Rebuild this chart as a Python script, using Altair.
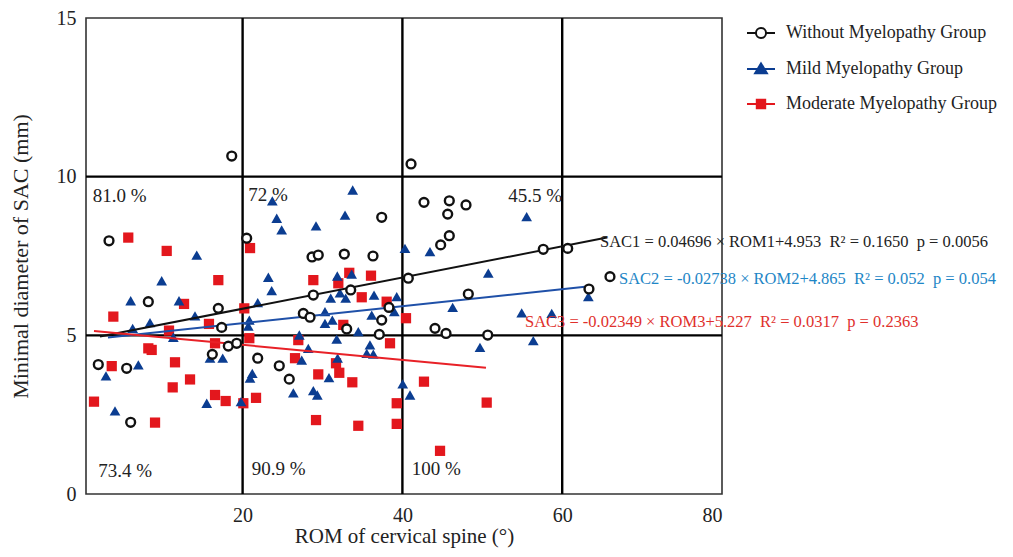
import altair as alt
import pandas as pd

FONT = "Liberation Serif"
BLACK = "#111111"
BLUE = "#0b3d91"
RED = "#e3171d"
BLUE_LINE = "#1f50a8"
RED_LINE = "#e82127"
TXT = "#222222"

# ---- data ----
groups = ["Without Myelopathy Group", "Mild Myelopathy Group", "Moderate Myelopathy Group"]

wo_x = [18.64, 41.08, 3.28, 20.51, 37.41, 28.69, 29.47, 32.73, 36.32, 28.85, 33.53, 38.32, 37.41, 8.20,
        16.96, 17.38, 27.60, 28.44, 33.03, 37.11, 18.21, 19.26, 16.21, 1.94, 5.49, 21.89, 24.59, 25.84,
        5.99, 57.63, 60.69, 40.74, 65.98, 63.35, 48.25, 44.08, 45.46, 50.68, 42.70, 45.87, 45.67, 47.96,
        45.87, 44.79]
wo_y = [10.65, 10.40, 7.98, 8.06, 8.72, 7.47, 7.53, 7.56, 7.50, 6.27, 6.43, 5.88, 5.48, 6.06,
        5.85, 5.25, 5.69, 5.57, 5.20, 5.03, 4.66, 4.75, 4.40, 4.08, 3.96, 4.28, 4.04, 3.62,
        2.26, 7.71, 7.74, 6.80, 6.85, 6.46, 6.30, 5.22, 5.06, 5.01, 9.19, 9.24, 8.82, 9.11,
        8.14, 7.85]

mild_x = [14.26, 23.72, 24.27, 24.89, 29.19, 32.82, 33.78, 40.32, 9.87, 23.22, 23.64, 31.85, 33.65,
          32.19, 31.03, 32.90, 36.45, 39.29, 38.99, 36.16, 5.99, 12.04, 14.04, 8.41, 6.24, 11.33,
          21.89, 20.84, 20.71, 30.31, 30.31, 31.23, 34.48, 27.10, 31.78, 35.94, 36.36, 35.54, 15.92,
          17.51, 28.22, 27.40, 31.89, 6.95, 2.90, 21.21, 20.93, 30.81, 15.51, 19.80, 26.35, 28.85,
          29.35, 40.04, 40.95, 4.03, 43.45, 50.75, 63.27, 46.29, 54.93, 58.69, 49.71, 56.38, 55.55]
mild_y = [7.53, 9.24, 8.69, 8.32, 8.45, 8.79, 9.58, 7.74, 6.72, 6.83, 6.41, 6.87, 6.93,
          6.34, 6.17, 6.17, 6.27, 6.22, 5.75, 5.64, 6.09, 6.09, 5.61, 5.40, 5.22, 4.94,
          6.03, 5.48, 5.29, 5.75, 5.38, 5.48, 5.12, 5.01, 4.88, 4.70, 4.41, 4.43, 4.28,
          4.28, 4.59, 4.22, 4.28, 4.07, 3.72, 3.80, 3.65, 3.67, 2.86, 2.91, 3.19, 3.26,
          3.12, 3.47, 3.12, 2.62, 7.64, 6.96, 6.22, 5.88, 5.71, 5.69, 4.62, 4.83, 8.74]

mod_x = [5.69, 10.50, 20.93, 16.96, 28.85, 33.35, 36.07, 31.98, 34.91, 38.03, 40.45, 12.67, 3.82,
         15.79, 10.79, 20.21, 32.60, 20.84, 16.55, 26.97, 38.45, 8.20, 8.62, 26.56, 11.54, 31.69,
         3.62, 29.47, 32.10, 33.73, 13.42, 11.25, 16.55, 17.88, 21.68, 20.09, 1.40, 39.29, 39.29,
         9.04, 29.19, 34.48, 42.70, 50.55, 44.71]
mod_y = [8.08, 7.66, 7.75, 6.74, 6.74, 6.97, 6.88, 6.64, 6.20, 6.06, 5.54, 5.99, 5.59,
         5.36, 5.15, 5.85, 5.33, 4.91, 4.75, 4.85, 4.75, 4.59, 4.54, 4.28, 4.15, 4.12,
         4.03, 3.77, 3.82, 3.52, 3.61, 3.36, 3.12, 2.93, 3.03, 2.86, 2.91, 2.86, 2.21,
         2.25, 2.33, 2.15, 3.54, 2.88, 1.36]

# fitted lines as drawn (end points)
fit1_x = [2.15, 65.6]
fit1_y = [4.96, 8.08]
fit2_x = [3.15, 62.85]
fit2_y = [4.93, 6.53]
fit3_x = [1.40, 50.46]
fit3_y = [5.14, 3.98]

grid_x = [20, 40, 60]
grid_y = [5, 10]
x_ticks = [20, 40, 60, 80]
y_ticks = [0, 5, 10, 15]

pct_labels = ["81.0 %", "72 %", "45.5 %", "73.4 %", "90.9 %", "100 %"]
pct_x = [1.24, 20.7, 53.25, 1.94, 21.14, 41.16]
pct_y = [9.21, 9.24, 9.21, 0.545, 0.60, 0.60]

NB = "\u00a0"
eq_labels = [
    f"SAC1 = 0.04696 × ROM1+4.953{NB}{NB}R² = 0.1650{NB}{NB}p = 0.0056",
    f"SAC2 = -0.02738 × ROM2+4.865{NB}{NB}R² = 0.052{NB}{NB}p = 0.054",
    f"SAC3 = -0.02349 × ROM3+5.227{NB}{NB}R² = 0.0317{NB}{NB}p = 0.2363",
]
eq_x = [64.73, 67.11, 55.34]
eq_y = [7.78, 6.62, 5.27]

# ---- encodings ----
def X():
    return alt.X("x:Q", scale=alt.Scale(domain=[0.4, 80], nice=False, zero=False),
                 axis=alt.Axis(values=x_ticks, title="ROM of cervical spine (°)", grid=False,
                               ticks=False, domain=False, labelPadding=11, titlePadding=0))

def Y():
    return alt.Y("y:Q", scale=alt.Scale(domain=[0, 15], nice=False, zero=False),
                 axis=alt.Axis(values=y_ticks, title="Minimal diameter of SAC (mm)", grid=False,
                               ticks=False, domain=False, labelPadding=10, titlePadding=24,
                               titleFontSize=22))

def df(xs, ys):
    return pd.DataFrame({"x": xs, "y": ys})

vgrid = alt.Chart(pd.DataFrame({"x": grid_x})).mark_rule(color="black", strokeWidth=2.4).encode(x=X())
hgrid = alt.Chart(pd.DataFrame({"y": grid_y})).mark_rule(color="black", strokeWidth=2.4).encode(y=Y())

squares = alt.Chart(df(mod_x, mod_y)).mark_point(
    shape="square", filled=True, color=RED, size=105, opacity=1).encode(x=X(), y=Y())
triangles = alt.Chart(df(mild_x, mild_y)).mark_point(
    shape="triangle-up", filled=True, color=BLUE, size=115, opacity=1).encode(x=X(), y=Y())

line1 = alt.Chart(df(fit1_x, fit1_y)).mark_line(color=BLACK, strokeWidth=2).encode(x=X(), y=Y())
line2 = alt.Chart(df(fit2_x, fit2_y)).mark_line(color=BLUE_LINE, strokeWidth=2).encode(x=X(), y=Y())
line3 = alt.Chart(df(fit3_x, fit3_y)).mark_line(color=RED_LINE, strokeWidth=2).encode(x=X(), y=Y())

circles = alt.Chart(df(wo_x, wo_y)).mark_point(
    shape="circle", filled=False, fill="white", stroke=BLACK, strokeWidth=2.4, size=78, opacity=1
).encode(x=X(), y=Y())

pct = alt.Chart(pd.DataFrame({"x": pct_x, "y": pct_y, "t": pct_labels})).mark_text(
    align="left", baseline="alphabetic", font=FONT, fontSize=19, color=TXT
).encode(x=X(), y=Y(), text="t:N")

eq_colors = [TXT, "#1e86c6", "#e0302c"]
eq_layers = []
for i in range(3):
    eq_layers.append(
        alt.Chart(pd.DataFrame({"x": [eq_x[i]], "y": [eq_y[i]], "t": [eq_labels[i]]})).mark_text(
            align="left", baseline="alphabetic", font=FONT, fontSize=16.5, color=eq_colors[i]
        ).encode(x=X(), y=Y(), text="t:N")
    )

# legend: line + marker symbols
p_circle = "M-1,0H-0.36M0.36,0H1M-0.36,0A0.36,0.36,0,1,1,0.36,0A0.36,0.36,0,1,1,-0.36,0Z"
p_tri = "M-1,0H1M0,-0.4L0.42,0.3L-0.42,0.3Z"
p_sq = "M-1,0H1M-0.3,-0.3H0.3V0.3H-0.3Z"

leg = alt.Legend(orient="none", legendX=660, legendY=0, title=None, padding=0,
                 labelFont=FONT, labelFontSize=18, labelColor=TXT, labelOffset=10,
                 symbolSize=784, symbolStrokeWidth=2, rowPadding=11, labelLimit=400)

legend_layer = alt.Chart(pd.DataFrame({"g": groups})).mark_point(
    filled=False, strokeWidth=2, opacity=1
).encode(
    x=alt.value(-600), y=alt.value(-600),
    shape=alt.Shape("g:N", scale=alt.Scale(domain=groups, range=[p_circle, p_tri, p_sq]), legend=leg),
    stroke=alt.Stroke("g:N", scale=alt.Scale(domain=groups, range=[BLACK, BLUE, RED]), legend=leg),
    fill=alt.Fill("g:N", scale=alt.Scale(domain=groups, range=["white", BLUE, RED]), legend=leg),
)

chart = alt.layer(
    vgrid, hgrid, squares, triangles, line1, line2, line3, circles, pct, *eq_layers, legend_layer
).properties(
    width=636, height=476,
    autosize=alt.AutoSizeParams(type="none"),
    padding={"left": 78, "top": 10, "right": 282, "bottom": 54},
).configure_view(
    stroke="#333333", strokeWidth=1.6
).configure_axis(
    labelFont=FONT, titleFont=FONT, labelFontSize=20, titleFontSize=21,
    titleFontWeight="normal", labelColor=TXT, titleColor=TXT
)

chart.save("out.html", embed_options={"renderer": "svg", "actions": False})
